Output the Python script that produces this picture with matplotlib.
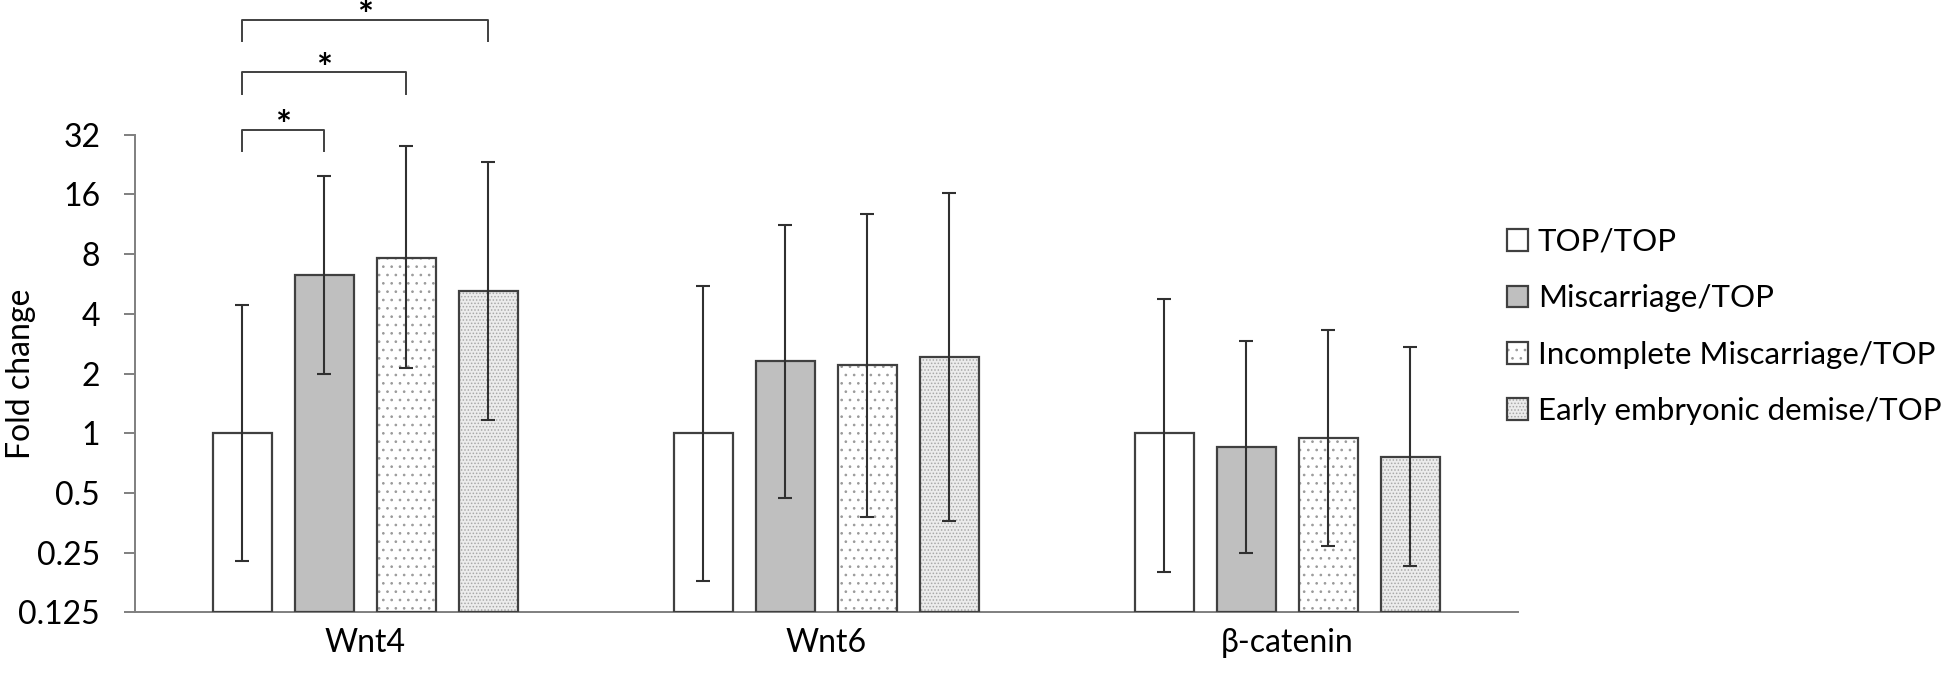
import matplotlib
matplotlib.use("Agg")
import matplotlib.pyplot as plt
import numpy as np
from matplotlib.patches import Patch
from matplotlib.ticker import FixedLocator, FixedFormatter, NullLocator

plt.rcParams['font.family'] = ['Lato', 'DejaVu Sans']
plt.rcParams['hatch.linewidth'] = 0.7

# data
genes = ["Wnt4", "Wnt6", "β-catenin"]
groups = ["TOP/TOP", "Miscarriage/TOP", "Incomplete Miscarriage/TOP", "Early embryonic demise/TOP"]
fold = [
    [1.0, 6.26, 7.66, 5.19],
    [1.0, 2.31, 2.21, 2.41],
    [1.0, 0.85, 0.95, 0.76],
]
err_hi = [
    [4.43, 19.9, 28.0, 23.3],
    [5.5, 11.2, 12.7, 16.2],
    [4.75, 2.91, 3.3, 2.73],
]
err_lo = [
    [0.226, 2.0, 2.12, 1.16],
    [0.18, 0.47, 0.38, 0.36],
    [0.2, 0.25, 0.27, 0.215],
]
yticks = [0.125, 0.25, 0.5, 1, 2, 4, 8, 16, 32]
ytick_labels = ["0.125", "0.25", "0.5", "1", "2", "4", "8", "16", "32"]
# significance brackets on Wnt4: (group a, group b)
sig_pairs = [(0, 1), (0, 2), (0, 3)]

faces = ["white", "#bfbfbf", "white", "#ececec"]
hatches = [None, None, "..", "....."]
hatch_col = ["none", "none", "#9a9a9a", "#a8a8a8"]
edge = "#404040"
base = 0.125

fig = plt.figure(figsize=(19.44, 6.79), dpi=100)
ax = fig.add_axes([0.0694, 0.098, 0.7114, 0.7038])

x = np.arange(len(genes))
step = 0.178
width = 0.128
fold = np.array(fold)
lo = fold - np.array(err_lo)
hi = np.array(err_hi) - fold

handles = []
for j, g in enumerate(groups):
    xs = x + (j - 1.5) * step
    if hatches[j]:
        ax.bar(xs, fold[:, j] - base, width, bottom=base, color=faces[j], edgecolor=hatch_col[j],
               hatch=hatches[j], linewidth=0, zorder=2)
    else:
        ax.bar(xs, fold[:, j] - base, width, bottom=base, color=faces[j], linewidth=0, zorder=2)
    ax.bar(xs, fold[:, j] - base, width, bottom=base, fill=False, edgecolor=edge,
           linewidth=1.6, zorder=3)
    ax.errorbar(xs, fold[:, j], yerr=[lo[:, j], hi[:, j]], fmt="none",
                ecolor="#303030", elinewidth=1.5, capsize=5, capthick=1.5, zorder=4)
    h1 = Patch(facecolor=faces[j], edgecolor=hatch_col[j] if hatches[j] else faces[j],
               hatch=hatches[j], linewidth=0)
    h2 = Patch(fill=False, edgecolor=edge, linewidth=1.6)
    handles.append((h1, h2))

ax.set_yscale("log")
ax.set_ylim(0.125, 32)
ax.set_xlim(-0.5, 2.5)
ax.yaxis.set_major_locator(FixedLocator(yticks))
ax.yaxis.set_major_formatter(FixedFormatter(ytick_labels))
ax.yaxis.set_minor_locator(NullLocator())
ax.set_xticks(x)
ax.set_xticklabels(genes)
ax.tick_params(axis="x", length=0, pad=11, labelsize=23)
ax.tick_params(axis="y", length=8, width=1.4, color="#7f7f7f", pad=17, labelsize=23)
ax.set_ylabel("Fold change", fontsize=23)
ax.yaxis.set_label_coords(-0.0716, 0.5)
for s in ["top", "right"]:
    ax.spines[s].set_visible(False)
for s in ["left", "bottom"]:
    ax.spines[s].set_color("#7f7f7f")
    ax.spines[s].set_linewidth(1.4)

# significance brackets (log2 heights)
levels = [5.08, 6.04, 6.92]
leg = 0.36
for (a, b), lv in zip(sig_pairs, levels):
    xa = x[0] + (a - 1.5) * step
    xb = x[0] + (b - 1.5) * step
    ytop = 2 ** lv
    ybot = 2 ** (lv - leg)
    ax.plot([xa, xa, xb, xb], [ybot, ytop, ytop, ybot], color="#404040", lw=1.4, clip_on=False)
    ax.text((xa + xb) / 2, 2 ** (lv + 0.04), "*", ha="center", va="center", fontsize=27,
            fontweight="bold", clip_on=False)

ax.legend(handles, groups, loc="center left", bbox_to_anchor=(0.7606, 0.519),
          bbox_transform=fig.transFigure, frameon=False, fontsize=22.5,
          handlelength=0.69, handleheight=0.69, handletextpad=0.3, labelspacing=0.91)

fig.savefig("out.png", dpi=100)
